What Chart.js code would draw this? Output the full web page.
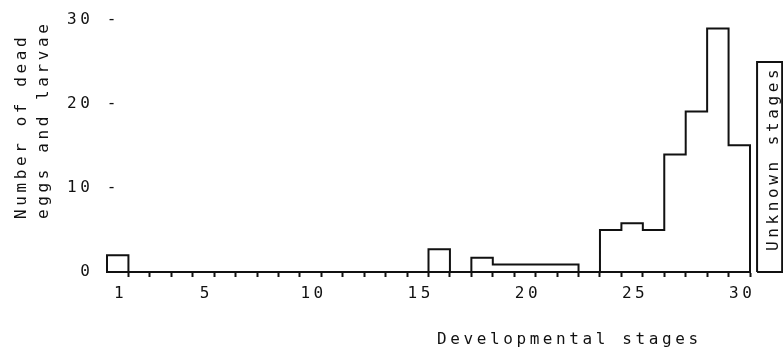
<!DOCTYPE html>
<html>
<head>
<meta charset="utf-8">
<script src="https://cdn.jsdelivr.net/npm/chart.js@4/dist/chart.umd.min.js"></script>
<style>
  html, body { margin: 0; padding: 0; background: #ffffff; }
  #wrap { width: 783px; height: 347px; }
</style>
</head>
<body>
<div id="wrap"><canvas id="c" width="783" height="347"></canvas></div>
<script>
// ---- data ----
const stages = [1,2,3,4,5,6,7,8,9,10,11,12,13,14,15,16,17,18,19,20,21,22,23,24,25,26,27,28,29,30];
const deadCounts = [2,0,0,0,0,0,0,0,0,0,0,0,0,0,0,2.7,0,1.7,0.9,0.9,0.9,0.9,0,5,5.8,5,14,19.1,29,15.1];
const unknownCount = 25;
const unknownSpan = [30.83, 32.0];          // where the "Unknown stages" column sits on the stage axis
const xTickLabels = [1,5,10,15,20,25,30];
const yTickValues = [0,10,20,30];
const yTickLabels = [' 0', '10 -', '20 -', '30 -'];
const xTitle = 'Developmental stages';
const yTitleLines = ['Number of dead', 'eggs and larvae'];
const unknownLabel = 'Unknown stages';

const FONT_FAMILY = '"DejaVu Sans Mono", monospace';
const SPACING = '3.6px';
const INK = '#111111';

// stepped outline of the histogram, built from the bin values
const stepPoints = [{x: stages[0] - 0.5, y: 0}];
stages.forEach((s, i) => stepPoints.push({x: s - 0.5, y: deadCounts[i]}));
stepPoints.push({x: stages[stages.length - 1] + 0.5, y: 0});

// closed box for unknown stages
const unknownBox = [
  {x: unknownSpan[0], y: 0},
  {x: unknownSpan[0], y: unknownCount},
  {x: unknownSpan[1], y: unknownCount},
  {x: unknownSpan[1], y: 0},
  {x: unknownSpan[0], y: 0}
];

// tick positions: bin boundaries (marks) + labelled stages
const boundaries = stages.map(s => s + 0.5);
const xTickValues = Array.from(new Set([...boundaries, ...xTickLabels])).sort((a, b) => a - b);

const setSpacing = (chart) => { chart.ctx.letterSpacing = SPACING; };

const decorPlugin = {
  id: 'decor',
  beforeInit: setSpacing,
  beforeUpdate: setSpacing,
  beforeLayout: setSpacing,
  beforeDraw: setSpacing,
  afterDraw(chart) {
    const {ctx, chartArea, scales} = chart;
    const xs = scales.x, ys = scales.y;
    ctx.save();
    ctx.letterSpacing = SPACING;
    ctx.fillStyle = INK;
    ctx.font = '16px ' + FONT_FAMILY;
    ctx.textBaseline = 'alphabetic';
    ctx.textAlign = 'left';

    // x title
    ctx.fillText(xTitle, chartArea.left + 330, chartArea.bottom + 71.5);

    // y title (two left-aligned rotated lines)
    const yStart = chartArea.bottom - 53;
    [chartArea.left - 81.5, chartArea.left - 59.5].forEach((bx, i) => {
      ctx.save();
      ctx.translate(bx, yStart);
      ctx.rotate(-Math.PI / 2);
      ctx.fillText(yTitleLines[i], 0, 0);
      ctx.restore();
    });

    // unknown stages label inside its box
    ctx.save();
    ctx.translate(xs.getPixelForValue(unknownSpan[1]) - 4, ys.getPixelForValue(0) - 21);
    ctx.rotate(-Math.PI / 2);
    ctx.fillText(unknownLabel, 0, 0);
    ctx.restore();

    ctx.restore();
  }
};

new Chart(document.getElementById('c'), {
  type: 'line',
  data: {
    datasets: [
      {
        label: 'Dead eggs and larvae',
        data: stepPoints,
        stepped: 'before',
        borderColor: INK,
        borderWidth: 2,
        pointRadius: 0,
        fill: false,
        clip: 4
      },
      {
        label: 'Unknown stages',
        data: unknownBox,
        borderColor: INK,
        borderWidth: 2,
        pointRadius: 0,
        fill: false,
        clip: false
      }
    ]
  },
  options: {
    responsive: false,
    animation: false,
    devicePixelRatio: 1,
    layout: { padding: { left: 67, right: 33, top: 20, bottom: 44 } },
    plugins: { legend: { display: false }, tooltip: { enabled: false } },
    scales: {
      x: {
        type: 'linear',
        min: stages[0] - 0.5,
        max: stages[stages.length - 1] + 0.5,
        afterBuildTicks: (axis) => { axis.ticks = xTickValues.map(v => ({value: v})); },
        afterFit: (scale) => { scale.height = 31; },
        border: { display: true, color: INK, width: 2 },
        grid: {
          display: true,
          drawOnChartArea: false,
          drawTicks: true,
          tickLength: 5,
          tickWidth: 2,
          tickColor: (c) => (c.tick && xTickLabels.includes(c.tick.value) && !boundaries.includes(c.tick.value)) ? 'rgba(0,0,0,0)' : INK
        },
        ticks: {
          autoSkip: false,
          maxRotation: 0,
          padding: 7,
          labelOffset: 3,
          color: INK,
          font: { family: FONT_FAMILY, size: 16 },
          callback: (v) => xTickLabels.includes(v) ? String(v) : ''
        }
      },
      y: {
        type: 'linear',
        min: yTickValues[0],
        max: yTickValues[yTickValues.length - 1],
        afterBuildTicks: (axis) => { axis.ticks = yTickValues.map(v => ({value: v})); },
        afterFit: (scale) => { scale.width = 40; },
        border: { display: false },
        grid: { display: false, drawTicks: false },
        ticks: {
          mirror: true,
          padding: -40,
          color: INK,
          font: { family: FONT_FAMILY, size: 16 },
          callback: (v) => yTickLabels[yTickValues.indexOf(v)]
        }
      }
    }
  },
  plugins: [decorPlugin]
});
</script>
</body>
</html>
